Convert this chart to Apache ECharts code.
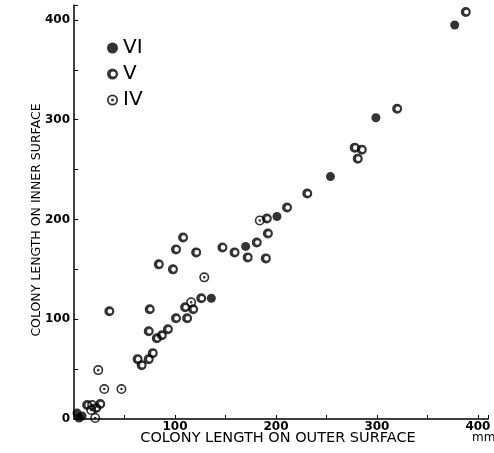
<!DOCTYPE html>
<html>
<head>
<meta charset="utf-8">
<script src="https://cdn.jsdelivr.net/npm/echarts@6/dist/echarts.min.js"></script>
<style>html,body{margin:0;padding:0;background:#fff}#c{width:494px;height:453px}</style>
</head>
<body>
<div id="c"></div>
<script>
const seriesNames = ['VI', 'V', 'IV'];
const pointsVI = [[377,395],[299,302],[254,243],[201,203],[170,173],[136,121],[3,6],[8,3],[5,1]];
const pointsV = [[388,408],[320,311],[278,272],[285,270],[281,261],[231,226],[211,212],[191,201],[192,186],[181,177],[159,167],[147,172],[172,162],[190,161],[108,182],[101,170],[121,167],[84,155],[98,150],[126,121],[118,110],[110,112],[101,101],[112,101],[75,110],[35,108],[74,88],[93,90],[87,84],[82,81],[63,60],[67,54],[74,60],[78,66],[13,14],[22,11],[26,15]];
const pointsIV = [[129,142],[24,49],[30,30],[47,30],[184,199],[116,117],[21,1],[18,14],[17,9]];
const tickLabels = [0,100,200,300,400];
const xTitle = 'COLONY LENGTH ON OUTER SURFACE';
const yTitle = 'COLONY LENGTH ON INNER SURFACE';
const unitText = 'mm';

const symV = 'path://M0,-5A5,5 0 1,1 0,5A5,5 0 1,1 0,-5Z M0.6,-2.3A2.3,2.3 0 1,0 0.6,2.3A2.3,2.3 0 1,0 0.6,-2.3Z';
const symIV = 'path://M0,-5A5,5 0 1,1 0,5A5,5 0 1,1 0,-5Z M0,-3.4A3.4,3.4 0 1,0 0,3.4A3.4,3.4 0 1,0 0,-3.4Z M0,-1.3A1.3,1.3 0 1,1 0,1.3A1.3,1.3 0 1,1 0,-1.3Z';

const font = 'DejaVu Sans';
const chart = echarts.init(document.getElementById('c'), null, {renderer: 'canvas'});
chart.setOption({
  animation: false,
  backgroundColor: '#fff',
  grid: {left: 74, right: 6, top: 5, bottom: 34, containLabel: false},
  legend: {
    orient: 'vertical', left: 102, top: 33, itemGap: 6, itemWidth: 11, itemHeight: 11,
    data: seriesNames,
    textStyle: {fontFamily: font, fontSize: 20, color: '#000', padding: [0,0,0,0]}
  },
  xAxis: {
    type: 'value', min: 0, max: 410, interval: 50,
    axisLine: {show: true, lineStyle: {color: '#000', width: 1.5}},
    axisTick: {show: true, inside: true, length: 4, lineStyle: {color: '#000'}},
    splitLine: {show: false},
    axisLabel: {margin: 2, fontFamily: font, fontWeight: 'bold', fontSize: 12, color: '#000',
      formatter: v => (v > 0 && tickLabels.includes(v)) ? String(v) : ''}
  },
  yAxis: {
    type: 'value', min: 0, max: 415, interval: 50,
    axisLine: {show: true, lineStyle: {color: '#000', width: 1.5}},
    axisTick: {show: true, inside: true, length: 4, lineStyle: {color: '#000'}},
    splitLine: {show: false},
    axisLabel: {margin: 4, fontFamily: font, fontWeight: 'bold', fontSize: 12, color: '#000',
      formatter: v => tickLabels.includes(v) ? String(v) : ''}
  },
  graphic: [
    {type: 'text', x: 278, y: 438, style: {text: xTitle, fontFamily: font, fontSize: 14.5, fill: '#000', align: 'center', verticalAlign: 'middle'}},
    {type: 'text', x: 37, y: 220, rotation: Math.PI / 2, style: {text: yTitle, fontFamily: font, fontSize: 12.5, fill: '#000', align: 'center', verticalAlign: 'middle'}},
    {type: 'text', x: 472, y: 438, style: {text: unitText, fontFamily: font, fontSize: 12, fill: '#000', verticalAlign: 'middle'}}
  ],
  series: [
    {name: 'VI', type: 'scatter', data: pointsVI, symbol: 'circle', symbolSize: 9, itemStyle: {color: '#000'}},
    {name: 'V', type: 'scatter', data: pointsV, symbol: symV, symbolSize: 10, itemStyle: {color: '#000'}},
    {name: 'IV', type: 'scatter', data: pointsIV, symbol: symIV, symbolSize: 10, itemStyle: {color: '#000'}}
  ]
});
</script>
</body>
</html>
